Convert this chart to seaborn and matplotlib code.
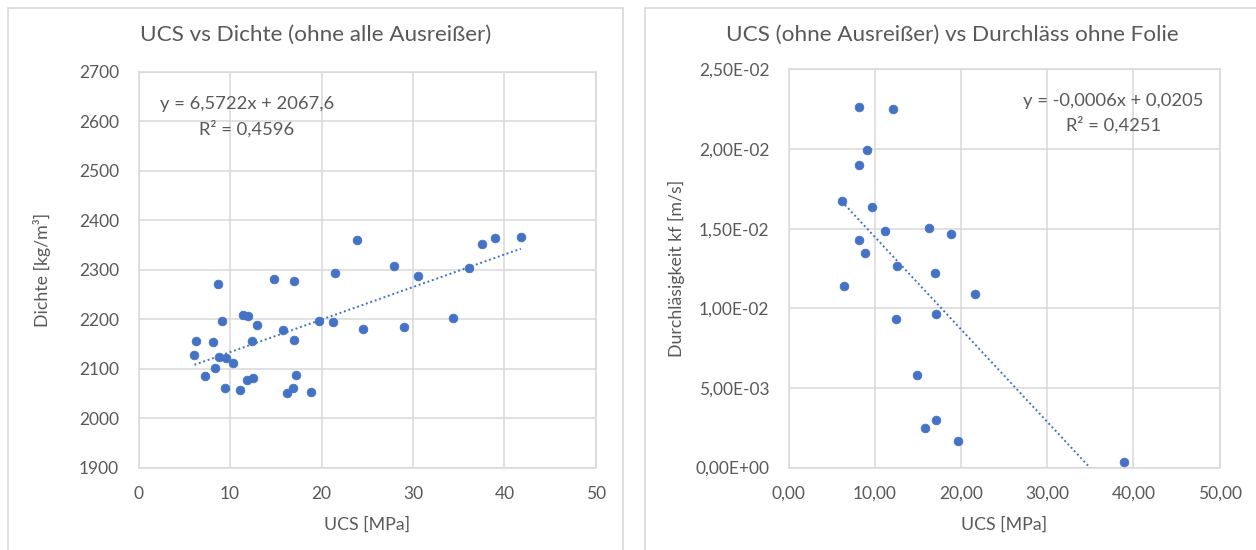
import matplotlib
matplotlib.use("Agg")
import numpy as np
import pandas as pd
import seaborn as sns
import matplotlib.pyplot as plt
from matplotlib.ticker import FuncFormatter, MultipleLocator
from matplotlib.patches import Rectangle

# ---------------- data ----------------
ucs_left = [23.9, 21.5, 14.8, 17.0, 8.7, 11.4, 12.0, 12.9, 9.1, 15.8,
            19.7, 21.2, 24.5, 17.0, 12.4, 6.3, 8.1, 6.1, 8.8, 9.6,
            10.3, 8.4, 7.3, 17.2, 12.5, 11.8, 9.4, 11.1, 16.9, 16.2,
            18.8, 27.9, 30.6, 29.0, 34.4, 36.1, 37.5, 39.0, 41.8]
dichte = [2360, 2294, 2282, 2277, 2270, 2208, 2207, 2189, 2197, 2177,
          2196, 2195, 2181, 2158, 2155, 2155, 2154, 2127, 2124, 2121,
          2112, 2102, 2085, 2088, 2082, 2077, 2060, 2056, 2061, 2051,
          2052, 2308, 2288, 2185, 2203, 2304, 2351, 2364, 2365]
fit_left = [6.5722, 2067.6]          # slope, intercept
eq_left = ["y = 6,5722x + 2067,6", "R² = 0,4596"]

ucs_right = [8.18, 12.12, 9.07, 8.18, 6.13, 9.68, 11.16, 16.30, 18.82, 8.18,
             8.83, 12.51, 16.96, 6.40, 21.57, 12.43, 17.04, 14.83, 17.05, 15.80,
             19.69, 38.93]
kf = [0.02262, 0.02251, 0.01992, 0.01902, 0.01672, 0.01636, 0.01485, 0.01506,
      0.01465, 0.01431, 0.01349, 0.01264, 0.01220, 0.01140, 0.01092, 0.00931,
      0.00962, 0.00580, 0.00296, 0.00247, 0.00166, 0.00038]
fit_right = [-0.00058, 0.02027]      # slope, intercept
eq_right = ["y = -0,0006x + 0,0205", "R² = 0,4251"]

title_left = "UCS vs Dichte (ohne alle Ausreißer)"
title_right = "UCS (ohne Ausreißer) vs Durchläss ohne Folie"

# ---------------- style ----------------
sns.set_theme(style="white")
plt.rcParams["font.family"] = ["Lato", "DejaVu Sans"]
BLUE = "#4472C4"
GRID = "#D9D9D9"
TXT = "#595959"

fig = plt.figure(figsize=(12.56, 5.5), dpi=100)

# chart frames
fig.add_artist(Rectangle((8 / 1256, -0.05), (623 - 8) / 1256, 1.05 - 8 / 550,
                         transform=fig.transFigure, fill=False,
                         edgecolor=GRID, lw=1.2, zorder=0))
fig.add_artist(Rectangle((645 / 1256, -0.05), 0.6, 1.05 - 8 / 550,
                         transform=fig.transFigure, fill=False,
                         edgecolor=GRID, lw=1.2, zorder=0))

ax1 = fig.add_axes([0.1104, 0.1498, 0.3640, 0.7200])
ax2 = fig.add_axes([0.6281, 0.1498, 0.3429, 0.7240])


def style_axes(ax):
    ax.grid(True, color=GRID, lw=1.1)
    ax.set_axisbelow(True)
    for s in ax.spines.values():
        s.set_color(GRID)
        s.set_linewidth(1.1)
    ax.tick_params(length=0, labelsize=12.5, colors=TXT)
    ax.tick_params(axis="y", pad=14)
    ax.tick_params(axis="x", pad=13)


df_l = pd.DataFrame({"ucs": ucs_left, "dichte": dichte})
sns.scatterplot(data=df_l, x="ucs", y="dichte", ax=ax1, color=BLUE, s=40,
                edgecolor=BLUE, linewidth=0.5, zorder=3)
xl = np.array([df_l.ucs.min(), df_l.ucs.max()])
ax1.plot(xl, fit_left[0] * xl + fit_left[1], color=BLUE, lw=1.4,
         linestyle=(0, (1, 1.4)), zorder=2)
ax1.set_xlim(0, 50)
ax1.set_ylim(1900, 2700)
ax1.xaxis.set_major_locator(MultipleLocator(10))
ax1.yaxis.set_major_locator(MultipleLocator(100))
style_axes(ax1)
ax1.set_xlabel("UCS [MPa]", fontsize=12.8, color=TXT, va="center")
ax1.set_ylabel("Dichte [kg/m³]", fontsize=12.8, color=TXT, va="center")
ax1.xaxis.set_label_coords(0.5, -0.145)
ax1.yaxis.set_label_coords(-0.211, 0.5)

df_r = pd.DataFrame({"ucs": ucs_right, "kf": kf})
sns.scatterplot(data=df_r, x="ucs", y="kf", ax=ax2, color=BLUE, s=40,
                edgecolor=BLUE, linewidth=0.5, zorder=3)
xr = np.array([df_r.ucs.min(), df_r.ucs.max()])
ax2.plot(xr, fit_right[0] * xr + fit_right[1], color=BLUE, lw=1.4,
         linestyle=(0, (1, 1.4)), zorder=2)
ax2.set_xlim(0, 50)
ax2.set_ylim(0, 0.025)
ax2.xaxis.set_major_locator(MultipleLocator(10))
ax2.yaxis.set_major_locator(MultipleLocator(0.005))
ax2.xaxis.set_major_formatter(FuncFormatter(lambda v, p: f"{v:.2f}".replace(".", ",")))
ax2.yaxis.set_major_formatter(FuncFormatter(lambda v, p: f"{v:.2E}".replace(".", ",")))
style_axes(ax2)
ax2.set_xlabel("UCS [MPa]", fontsize=12.8, color=TXT, va="center")
ax2.set_ylabel("Durchläsigkeit kf [m/s]", fontsize=12.8, color=TXT, va="center")
ax2.xaxis.set_label_coords(0.5, -0.143)
ax2.yaxis.set_label_coords(-0.26, 0.5)

# titles
fig.text(315.4 / 1256, 1 - 35 / 550, title_left, ha="center", va="center",
         fontsize=16.2, color=TXT)
fig.text(952.6 / 1256, 1 - 35 / 550, title_right, ha="center", va="center",
         fontsize=16.2, color=TXT)

# trendline equations
fig.text(246.7 / 1256, 1 - 104 / 550, eq_left[0], ha="center", va="center",
         fontsize=13.2, color=TXT)
fig.text(246.7 / 1256, 1 - 128.7 / 550, eq_left[1], ha="center", va="center",
         fontsize=13.2, color=TXT)
fig.text(1113 / 1256, 1 - 100.7 / 550, eq_right[0], ha="center", va="center",
         fontsize=13.2, color=TXT)
fig.text(1113 / 1256, 1 - 124.9 / 550, eq_right[1], ha="center", va="center",
         fontsize=13.2, color=TXT)

fig.savefig("out.png", dpi=100, facecolor="white")
